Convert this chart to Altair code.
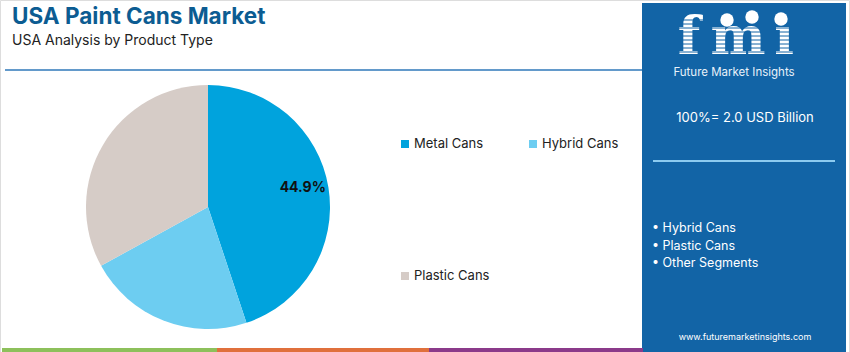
import altair as alt
import pandas as pd

# ---- data ----
categories = ["Metal Cans", "Hybrid Cans", "Plastic Cans"]
shares = [44.9, 22.1, 33.0]
colors = ["#00A3DD", "#6DCDF1", "#D6CCC7"]
panel_bullets = ["• Hybrid Cans", "• Plastic Cans", "• Other Segments"]
title_text = "USA Paint Cans Market"
subtitle_text = "USA Analysis by Product Type"
total_text = "100%= 2.0 USD Billion"
url_text = "www.futuremarketinsights.com"

FONT = "Inter"
PANEL = "#1264A6"

pie_df = pd.DataFrame({"cat": categories, "share": shares, "idx": list(range(len(categories)))})
one = pd.DataFrame({"a": [0]})

def base():
    return alt.Chart(one)

def rect(x1, x2, y1, y2, color, **kw):
    return base().mark_rect(color=color, **kw).encode(
        x=alt.value(x1), x2=alt.value(x2), y=alt.value(y1), y2=alt.value(y2))

def text(t, x, y, size, color, align="left", weight="normal", font=FONT, baseline="middle", **kw):
    return base().mark_text(text=t, align=align, baseline=baseline, fontSize=size,
                            color=color, fontWeight=weight, font=font, **kw).encode(
        x=alt.value(x), y=alt.value(y))

def hline(x1, x2, y, color, w):
    return base().mark_rule(color=color, strokeWidth=w).encode(
        x=alt.value(x1), x2=alt.value(x2), y=alt.value(y))

layers = []

# outer frame
layers.append(base().mark_rect(fill="white", stroke="#DDDDDD", strokeWidth=1).encode(
    x=alt.value(0.5), x2=alt.value(849.5), y=alt.value(0.5), y2=alt.value(360)))

# title / subtitle / separator
layers.append(text(title_text, 12, 17, 22.5, "#0C5C92", weight="bold"))
layers.append(text(subtitle_text, 12, 41, 14, "#222222"))
layers.append(hline(5, 645, 70, "#2F78BA", 1.5))

# pie
color_scale = alt.Scale(domain=categories, range=colors)
pie = alt.Chart(pie_df).mark_arc(outerRadius=122, stroke=None).encode(
    theta=alt.Theta("share:Q", stack=True),
    order=alt.Order("idx:Q"),
    color=alt.Color("cat:N", scale=color_scale, legend=None),
    x=alt.value(208), y=alt.value(207),
)
label = alt.Chart(pie_df).transform_calculate(
    lab="datum.cat == 'Metal Cans' ? format(datum.share, '.1f') + '%' : ''"
).mark_text(radius=96, fontSize=14, fontWeight="bold", color="#111111", font=FONT).encode(
    theta=alt.Theta("share:Q", stack=True),
    order=alt.Order("idx:Q"),
    text="lab:N",
    x=alt.value(208), y=alt.value(203),
)
layers += [pie, label]

# legend
leg_pos = [(405, 144), (533, 144), (405, 276)]
for cat, col, (lx, ly) in zip(categories, colors, leg_pos):
    layers.append(base().mark_square(size=64, color=col, opacity=1).encode(
        x=alt.value(lx), y=alt.value(ly)))
    layers.append(text(cat, lx + 9, ly, 13, "#222222"))

# right panel
layers.append(rect(642, 846, 3, 352, PANEL))
# logo
for ch, cx in zip(["f", "m", "ı"], [689, 738, 784]):
    layers.append(text(ch, cx, 54, 52, "white", align="center", weight="bold",
                       font="DejaVu Serif", baseline="alphabetic"))
for yy in range(20, 56, 4):
    layers.append(hline(668, 802, yy, PANEL, 1))
for cx, cy in [(727, 20), (752, 17), (781, 19)]:
    layers.append(base().mark_circle(size=180, color="white", opacity=1).encode(
        x=alt.value(cx), y=alt.value(cy)))
layers.append(text("Future Market Insights", 734, 73, 11.5, "#E8F2FA", align="center"))

layers.append(text(total_text, 745, 118, 13, "white", align="center"))
layers.append(hline(653, 835, 161, "#8CCBF0", 2))
for i, b in enumerate(panel_bullets):
    layers.append(text(b, 652, 228 + i * 17.5, 12.5, "white"))
layers.append(text(url_text, 745, 337, 9, "white", align="center"))

# bottom stripes
layers.append(rect(2, 217, 348, 352, "#8DC05B"))
layers.append(rect(217, 429, 348, 352, "#E0703C"))
layers.append(rect(429, 643, 348, 352, "#8B3A8A"))

chart = alt.layer(*layers).properties(
    width=850, height=352, padding=0, autosize=alt.AutoSizeParams(type="none"),
    background="white",
).configure_view(stroke=None)

chart.save("out.html", embed_options={"renderer": "svg", "actions": False})
